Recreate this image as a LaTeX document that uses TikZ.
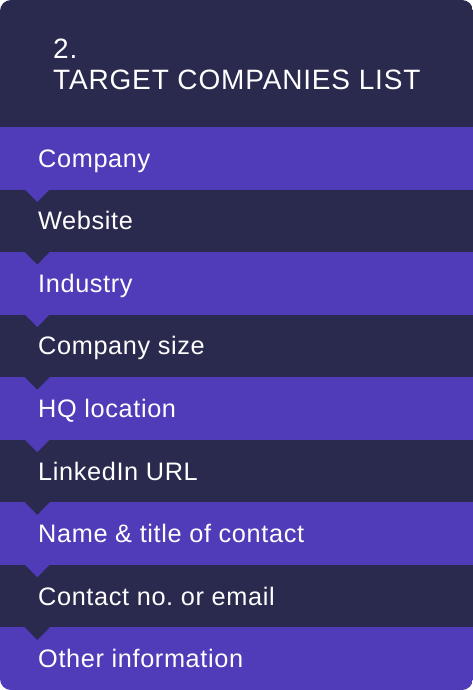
\documentclass[tikz,border=0pt]{standalone}
\usepackage{fontspec}
\setmainfont{Liberation Sans}
\newfontfamily\headfont[LetterSpace=3]{Liberation Sans}
\newfontfamily\rowfont[LetterSpace=2.5]{Liberation Sans}
\frenchspacing
\definecolor{navy}{RGB}{42,41,78}
\definecolor{violet}{RGB}{80,59,184}
\begin{document}
\begin{tikzpicture}[x=1pt,y=-1pt,
  rowtext/.style={anchor=base west, text=white, inner sep=0pt, font=\rowfont\fontsize{25.3}{30}\selectfont},
  headtext/.style={anchor=base west, text=white, inner sep=0pt, font=\headfont\fontsize{28}{32}\selectfont},
  pointer/.style={fill=#1}]
\useasboundingbox (0,0) rectangle (473,690);
\begin{scope}
  \clip[rounded corners=11pt] (0,0) rectangle (473,690);
  \fill[navy] (0,0) rectangle (473,127);
  \foreach \i/\c/\t in {0/violet/Company,1/navy/Website,2/violet/Industry,3/navy/Company size,4/violet/HQ location,5/navy/LinkedIn URL,6/violet/Name \& title of contact,7/navy/Contact no. or email,8/violet/Other information}{
    \pgfmathsetmacro{\top}{127+62.556*\i}
    \fill[\c] (0,\top) rectangle (473,\top+62.7);
  }
  \foreach \i/\c in {0/violet,1/navy,2/violet,3/navy,4/violet,5/navy,6/violet,7/navy}{
    \pgfmathsetmacro{\bot}{127+62.556*(\i+1)}
    \fill[pointer=\c] (24.5,\bot-0.5) -- (50,\bot-0.5) -- (37.3,\bot+12.4) -- cycle;
  }
\end{scope}
\node[headtext] (num) at (53,59) {2.};
\node[headtext] (title) at (53,90) {TARGET COMPANIES LIST};
\foreach \i/\t in {0/Company,1/Website,2/Industry,3/Company size,4/HQ location,5/LinkedIn URL,6/Name \& title of contact,7/Contact no. or email,8/Other information}{
  \pgfmathsetmacro{\base}{127+62.556*\i+40.3}
  \node[rowtext] (row\i) at (38,\base) {\t};
}
\end{tikzpicture}
\end{document}
